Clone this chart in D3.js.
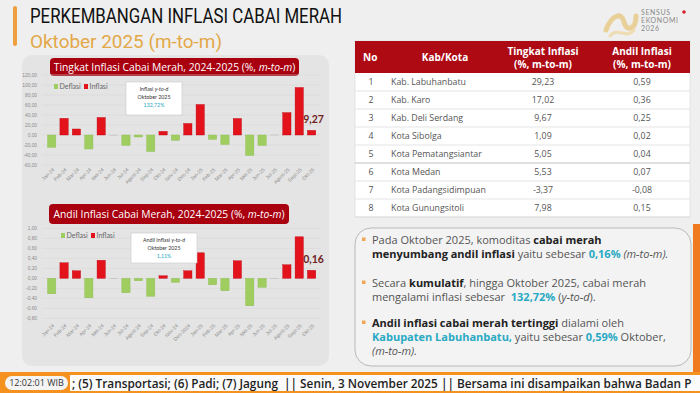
<!DOCTYPE html>
<html>
<head>
<meta charset="utf-8">
<script src="https://cdn.jsdelivr.net/npm/d3@7"></script>
<style>
  body { margin: 0; background: #eeeeee; }
  svg { display: block; font-family: Lato, "Open Sans", sans-serif; }
</style>
</head>
<body>
<svg id="chart" width="700" height="393"></svg>
<script>
// --- data ---
var monthsTop = ["Jan-24","Feb-24","Mar-24","Apr-24","Mei-24","Jun-24","Jul-24","Agust-24","Sep-24","Okt-24","Nov-24","Des-24",
                 "Jan-25","Feb-25","Mar-25","Apr-25","Mei-25","Jun-25","Jul-25","Agust-25","Sept-25","Okt-25"];
var monthsBot = ["Jan-24","Feb-24","Mar-24","Apr-24","Mei-24","Jun-24","Jul-24","Agust-24","Sep-24","Okt-24","Nov-24","Des-2024",
                 "Jan-25","Feb-25","Mar-25","Apr-25","Mei-25","Jun-25","Jul-25","Agust-25","Sept-25","Okt-25"];
var tingkat = [-24.7, 33.3, 12.0, -28.0, 35.0, 0.3, -20.7, -4.0, -33.0, 7.3, -10.7, 23.0,
               61.0, -8.7, -19.0, 33.0, -41.0, -21.0, 0.6, 44.7, 95.0, 9.27];
var andil = [-0.31, 0.31, 0.15, -0.39, 0.36, 0.005, -0.29, -0.05, -0.36, 0.05, -0.08, 0.15,
             0.51, -0.13, -0.25, 0.35, -0.55, -0.18, 0.005, 0.27, 0.83, 0.16];
var topTicks = [-60, -40, -20, 0, 20, 40, 60, 80, 100, 120];
var botTicks = [-0.8, -0.6, -0.4, -0.2, 0, 0.2, 0.4, 0.6, 0.8, 1.0];

var tabNo = [1, 2, 3, 4, 5, 6, 7, 8];
var tabKota = ["Kab. Labuhanbatu","Kab. Karo","Kab. Deli Serdang","Kota Sibolga","Kota Pematangsiantar",
               "Kota Medan","Kota Padangsidimpuan","Kota Gunungsitoli"];
var tabTingkat = [29.23, 17.02, 9.67, 1.09, 5.05, 5.53, -3.37, 7.98];
var tabAndil = [0.59, 0.36, 0.25, 0.02, 0.04, 0.07, -0.08, 0.15];

var fmt = function(v) { return v.toFixed(2).replace(".", ","); };

var svg = d3.select("#chart");
var red = "#e3131b", green = "#9fcd60", darkRed = "#a8000f", teal = "#29a9c4";

// background
svg.append("rect").attr("width", 700).attr("height", 393).attr("fill", "#efefef");

// title
svg.append("rect").attr("x", 13).attr("y", 6).attr("width", 4).attr("height", 40).attr("rx", 2).attr("fill", "#eea03f");
svg.append("text").attr("x", 30).attr("y", 23).attr("font-size", 21).attr("fill", "#111")
  .attr("font-family", "Roboto, sans-serif").attr("textLength", 312).attr("lengthAdjust", "spacingAndGlyphs")
  .text("PERKEMBANGAN INFLASI CABAI MERAH");
svg.append("text").attr("x", 30).attr("y", 48).attr("font-size", 19).attr("fill", "#e3a848")
  .attr("font-family", "Roboto, sans-serif").attr("textLength", 192).attr("lengthAdjust", "spacingAndGlyphs")
  .text("Oktober 2025 (m-to-m)");

// logo
var logo = svg.append("g");
logo.append("path").attr("d", "M606,30 C612,14 622,12 624,22 C626,32 636,30 636,16")
  .attr("fill", "none").attr("stroke", "#e9cf98").attr("stroke-width", 5).attr("stroke-linecap", "round");
logo.append("path").attr("d", "M610,36 C618,26 626,40 634,30")
  .attr("fill", "none").attr("stroke", "#efdcb3").attr("stroke-width", 3).attr("stroke-linecap", "round");
["SENSUS", "EKONOMI", "2026"].forEach(function(t, i) {
  logo.append("text").attr("x", 641).attr("y", 15 + i * 8).attr("font-size", 7).attr("fill", "#8a8a8a")
    .attr("letter-spacing", 0.6).text(t);
});
logo.append("circle").attr("cx", 684).attr("cy", 12).attr("r", 1.8).attr("fill", "#d42030");

// left panel
svg.append("rect").attr("x", 22).attr("y", 55).attr("width", 307).attr("height", 311).attr("rx", 10).attr("fill", "#e4e4e4");

function banner(x, y, w, h, main, ital) {
  svg.append("rect").attr("x", x).attr("y", y).attr("width", w).attr("height", h).attr("rx", 4).attr("fill", darkRed);
  var t = svg.append("text").attr("x", x + w / 2).attr("y", y + h / 2 + 3.8).attr("text-anchor", "middle")
    .attr("font-size", 10.3).attr("fill", "#fff").attr("font-family", "'Open Sans', sans-serif");
  t.append("tspan").text(main);
  t.append("tspan").attr("font-style", "italic").text(ital);
  t.append("tspan").text(")");
}

function barChart(opt) {
  var x = d3.scaleBand().domain(opt.months).range([45.5, 317.8]).paddingInner(0.33).paddingOuter(0.165);
  var y = d3.scaleLinear().domain(opt.domain).range([opt.y1, opt.y0]);
  var g = svg.append("g");

  g.selectAll(".grid").data(opt.ticks).enter().append("line")
    .attr("x1", 42).attr("x2", 321).attr("y1", function(d) { return y(d); }).attr("y2", function(d) { return y(d); })
    .attr("stroke", "#d6d6d6").attr("stroke-width", 0.6);

  var yAxis = d3.axisLeft(y).tickValues(opt.ticks).tickSize(0).tickPadding(3).tickFormat(fmt);
  var ya = g.append("g").attr("transform", "translate(40,0)").call(yAxis);
  ya.select(".domain").remove();
  ya.selectAll("text").attr("font-size", 4.8).attr("fill", "#8c8c8c");

  g.selectAll(".bar").data(opt.values).enter().append("rect")
    .attr("x", function(d, i) { return x(opt.months[i]); })
    .attr("width", x.bandwidth())
    .attr("y", function(d) { return y(Math.max(0, d)); })
    .attr("height", function(d) { return Math.max(0.6, Math.abs(y(d) - y(0))); })
    .attr("fill", function(d) { return Math.abs(d) < opt.tiny ? "#b8b8b8" : (d < 0 ? green : red); })
    .attr("stroke", function(d) { return d < 0 ? "#8fbc55" : "#c00010"; })
    .attr("stroke-width", function(d) { return Math.abs(d) < opt.tiny ? 0 : 0.4; });

  var xAxis = d3.axisBottom(x).tickSize(0).tickPadding(0);
  var xa = g.append("g").attr("transform", "translate(0," + opt.xLabY + ")").call(xAxis);
  xa.select(".domain").remove();
  xa.selectAll("text").attr("font-size", 5).attr("fill", "#8c8c8c")
    .attr("text-anchor", "end").attr("dy", 0).attr("transform", "translate(3,0) rotate(-45)");

  // value label on the last bar
  var last = opt.values.length - 1;
  g.append("text").attr("x", x(opt.months[last]) + x.bandwidth() / 2 + 2)
    .attr("y", y(opt.values[last]) - 7).attr("text-anchor", "middle")
    .attr("font-size", 10.5).attr("font-weight", "bold").attr("fill", "#6e2222")
    .text(fmt(opt.values[last]));

  // legend
  var lg = g.append("g").attr("transform", "translate(" + opt.legX + "," + opt.legY + ")");
  lg.append("rect").attr("x", 0).attr("y", -5).attr("width", 4).attr("height", 5).attr("fill", green);
  lg.append("text").attr("x", 5.5).attr("y", 0).attr("font-size", 7).attr("fill", "#666").text("Deflasi");
  lg.append("rect").attr("x", 30).attr("y", -5).attr("width", 4).attr("height", 5).attr("fill", red);
  lg.append("text").attr("x", 35.5).attr("y", 0).attr("font-size", 7).attr("fill", "#666").text("Inflasi");

  // callout
  var c = opt.callout;
  g.append("rect").attr("x", c.x).attr("y", c.y).attr("width", c.w).attr("height", c.h)
    .attr("fill", "#fff").attr("stroke", "#c8c8c8").attr("stroke-width", 0.6);
  var cx = c.x + c.w / 2;
  var t1 = g.append("text").attr("x", cx).attr("y", c.y + 9).attr("text-anchor", "middle").attr("font-size", 5.3).attr("fill", "#333");
  t1.append("tspan").text(c.label + " ");
  t1.append("tspan").attr("font-style", "italic").text("y-to-d");
  g.append("text").attr("x", cx).attr("y", c.y + 17).attr("text-anchor", "middle").attr("font-size", 5.3).attr("fill", "#333").text("Oktober 2025");
  g.append("text").attr("x", cx).attr("y", c.y + 25).attr("text-anchor", "middle").attr("font-size", 5.3).attr("fill", teal).text(c.value);
}

banner(50, 58, 249, 18, "Tingkat Inflasi Cabai Merah, 2024-2025 (%, ", "m-to-m");
barChart({ months: monthsTop, values: tingkat, ticks: topTicks, domain: [-60, 120], y0: 75, y1: 165,
  xLabY: 170, tiny: 1, legX: 54, legY: 89,
  callout: { x: 126, y: 82, w: 56, h: 33, label: "Inflasi", value: "132,72%" } });

banner(49, 204, 240, 20, "Andil Inflasi Cabai Merah, 2024-2025 (%, ", "m-to-m");
barChart({ months: monthsBot, values: andil, ticks: botTicks, domain: [-0.8, 1.0], y0: 228.3, y1: 318.3,
  xLabY: 326, tiny: 0.01, legX: 61, legY: 238,
  callout: { x: 131, y: 233, w: 66, h: 30, label: "Andil Inflasi", value: "1,11%" } });

// table
var tx = 355, tw = 335, headY = 41, headH = 32, rowH = 18;
var colNo = 371, colKota = 391, colTk = 543, colAn = 642;
svg.append("rect").attr("x", tx).attr("y", headY).attr("width", tw).attr("height", headH + rowH * tabNo.length)
  .attr("fill", "#fff").attr("stroke", "#d8d8d8").attr("stroke-width", 0.6);
svg.append("rect").attr("x", tx).attr("y", headY).attr("width", tw).attr("height", headH).attr("fill", "#ad0a14");
var head = svg.append("g").attr("fill", "#fff").attr("font-weight", "bold").attr("font-size", 10).attr("font-family", "'Open Sans', sans-serif");
head.append("text").attr("x", 363).attr("y", headY + 20).text("No");
head.append("text").attr("x", 445).attr("y", headY + 20).attr("text-anchor", "middle").text("Kab/Kota");
head.append("text").attr("x", colTk).attr("y", headY + 14).attr("text-anchor", "middle").text("Tingkat Inflasi");
head.append("text").attr("x", colTk).attr("y", headY + 27).attr("text-anchor", "middle").text("(%, m-to-m)");
head.append("text").attr("x", colAn).attr("y", headY + 14).attr("text-anchor", "middle").text("Andil Inflasi");
head.append("text").attr("x", colAn).attr("y", headY + 27).attr("text-anchor", "middle").text("(%, m-to-m)");

var rows = svg.append("g").selectAll("g").data(tabNo).enter().append("g")
  .attr("transform", function(d, i) { return "translate(0," + (headY + headH + i * rowH) + ")"; })
  .attr("font-size", 8.8).attr("fill", "#555").attr("font-family", "'Open Sans', sans-serif");
rows.append("line").attr("x1", tx).attr("x2", tx + tw).attr("y1", rowH).attr("y2", rowH)
  .attr("stroke", function(d, i) { return i === 4 ? "#999" : "#d4d4d4"; }).attr("stroke-width", 0.6);
rows.append("text").attr("x", colNo).attr("y", 12).attr("text-anchor", "middle").text(function(d) { return d; });
rows.append("text").attr("x", colKota).attr("y", 12).text(function(d, i) { return tabKota[i]; });
rows.append("text").attr("x", colTk).attr("y", 12).attr("text-anchor", "middle").text(function(d, i) { return fmt(tabTingkat[i]); });
rows.append("text").attr("x", colAn).attr("y", 12).attr("text-anchor", "middle").text(function(d, i) { return fmt(tabAndil[i]); });

// notes box
svg.append("rect").attr("x", 355).attr("y", 228).attr("width", 336).attr("height", 138).attr("rx", 16)
  .attr("fill", "#f3f3f3").attr("stroke", "#a9a9a9").attr("stroke-width", 0.8);
svg.append("rect").attr("x", 693).attr("y", 224).attr("width", 7).attr("height", 148).attr("fill", "#f07a1f");

var notes = [
  { y: 244, bullet: true, parts: [["Pada Oktober 2025, komoditas ", ""], ["cabai merah", "b"]] },
  { y: 258, parts: [["menyumbang andil inflasi", "b"], [" yaitu sebesar ", ""], ["0,16%", "bt"], [" (m-to-m).", "i"]] },
  { y: 287, bullet: true, parts: [["Secara ", ""], ["kumulatif", "b"], [", hingga Oktober 2025, cabai merah", ""]] },
  { y: 301, parts: [["mengalami inflasi sebesar  ", ""], ["132,72%", "bt"], [" (", ""], ["y-to-d", "i"], [").", ""]] },
  { y: 327, bullet: true, parts: [["Andil inflasi cabai merah tertinggi", "b"], [" dialami oleh", ""]] },
  { y: 341, parts: [["Kabupaten Labuhanbatu,", "bt"], [" yaitu sebesar ", ""], ["0,59%", "bt"], [" Oktober,", ""]] },
  { y: 355, parts: [["(m-to-m).", "i"]] }
];
notes.forEach(function(n) {
  if (n.bullet) {
    svg.append("rect").attr("x", 362).attr("y", n.y - 6.5).attr("width", 3.5).attr("height", 3.5).attr("fill", "#f2a553");
  }
  var t = svg.append("text").attr("x", 372).attr("y", n.y).attr("font-size", 11).attr("fill", "#555")
    .attr("font-family", "'Open Sans', sans-serif").attr("xml:space", "preserve");
  n.parts.forEach(function(p) {
    var s = t.append("tspan").text(p[0]);
    if (p[1].indexOf("b") >= 0) s.attr("font-weight", "bold").attr("fill", "#222");
    if (p[1].indexOf("t") >= 0) s.attr("fill", teal);
    if (p[1].indexOf("i") >= 0) s.attr("font-style", "italic");
  });
});

// ticker
svg.append("rect").attr("x", 0).attr("y", 372).attr("width", 700).attr("height", 21).attr("fill", "#f5921f");
svg.append("rect").attr("x", 70).attr("y", 375).attr("width", 630).attr("height", 16).attr("fill", "#fbfbfb");
svg.append("rect").attr("x", 5).attr("y", 376).attr("width", 63).attr("height", 14).attr("rx", 7).attr("fill", "#f4f4f4");
svg.append("text").attr("x", 36.5).attr("y", 386.3).attr("text-anchor", "middle").attr("font-size", 9)
  .attr("fill", "#333").attr("font-family", "'Open Sans', sans-serif").text("12:02:01 WIB");
svg.append("text").attr("x", 72).attr("y", 387.5).attr("font-size", 11.8).attr("font-weight", 600)
  .attr("fill", "#1e1e1e").attr("font-family", "'Open Sans', sans-serif").attr("xml:space", "preserve")
  .text("; (5) Transportasi; (6) Padi; (7) Jagung  || Senin, 3 November 2025 || Bersama ini disampaikan bahwa Badan P");
</script>
</body>
</html>
